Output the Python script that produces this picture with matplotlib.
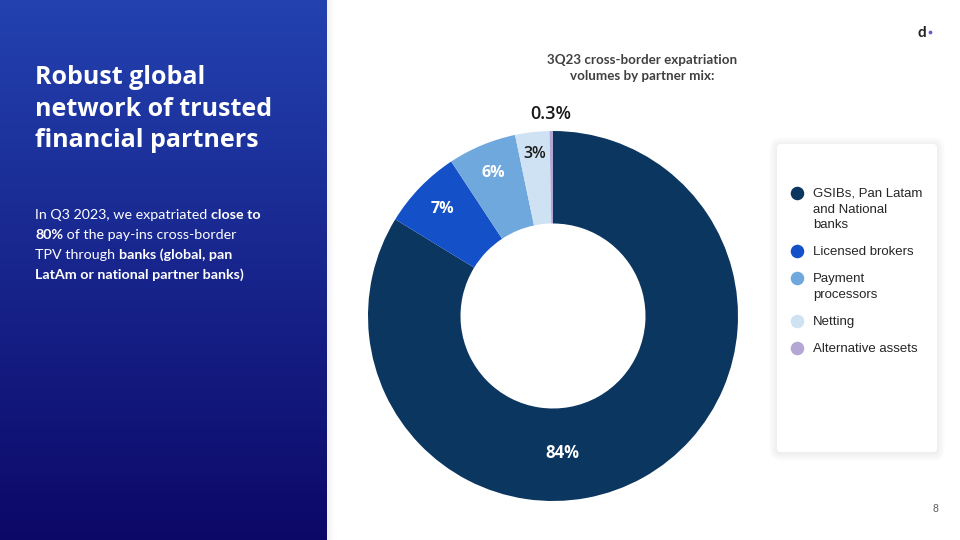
import numpy as np
import matplotlib.pyplot as plt
from matplotlib.patches import FancyBboxPatch, Rectangle

# data
categories = ["GSIBs, Pan Latam\nand National\nbanks", "Licensed brokers",
              "Payment\nprocessors", "Netting", "Alternative assets"]
shares = [84, 7, 6, 3, 0.3]
share_labels = ["84%", "7%", "6%", "3%", "0.3%"]
colors = ["#0b365f", "#1450c8", "#6fa8dc", "#cfe2f3", "#b4a7d6"]

W, H = 960, 540
fig = plt.figure(figsize=(9.6, 5.4), dpi=100)
fig.patch.set_facecolor("white")

# overlay axes in pixel coordinates
bg = fig.add_axes([0, 0, 1, 1])
bg.set_xlim(0, W)
bg.set_ylim(H, 0)
bg.axis("off")

# left panel gradient
top = np.array([0x23, 0x42, 0xb0]) / 255
bot = np.array([0x0c, 0x08, 0x68]) / 255
t = np.linspace(0, 1, 256)[:, None]
grad = (top * (1 - t) + bot * t)[:, None, :]
bg.imshow(grad, extent=[0, 327, H, 0], aspect="auto", zorder=1)
for i in range(8):
    bg.add_patch(Rectangle((327 + i, 0), 1, H, color="black",
                           alpha=0.05 * (1 - i / 8), lw=0, zorder=1))

tfont = "Lato"
for i, line in enumerate(["Robust global", "network of trusted", "financial partners"]):
    bg.text(35, 84 + i * 31.5, line, color="white", fontsize=18,
            fontweight="bold", family="Open Sans", va="baseline", zorder=3)

# body text with bold runs
runs = [
    [("In Q3 2023, we expatriated ", "normal"), ("close to", "bold")],
    [("80%", "bold"), (" of the pay-ins cross-border", "normal")],
    [("TPV through ", "normal"), ("banks (global, pan", "bold")],
    [("LatAm or national partner banks)", "bold")],
]
renderer = fig.canvas.get_renderer()
inv = bg.transData.inverted()
for i, line in enumerate(runs):
    x = 35
    for txt, wt in line:
        tx = bg.text(x, 219 + i * 19.8, txt, color="white", fontsize=10.3,
                     fontweight=wt, family=tfont, va="baseline", zorder=3)
        bb = tx.get_window_extent(renderer=renderer)
        x = inv.transform((bb.x1, bb.y0))[0]

# chart title
bg.text(642, 68, "3Q23 cross-border expatriation\nvolumes by partner mix:",
        ha="center", va="center", fontsize=9.6, fontweight="bold",
        family=tfont, color="#404040", linespacing=1.5, zorder=3)

# logo and page number
bg.text(922, 33, "d", fontsize=11, fontweight="bold", family=tfont,
        color="#222222", ha="center", va="center", zorder=3)
bg.scatter([930], [32], s=3, color="#6a5acd", zorder=3)
bg.text(935, 509, "8", fontsize=7.5, color="#595959", family="Liberation Sans",
        ha="center", va="center", zorder=3)

# legend card with soft shadow
lx0, ly0, lx1, ly1 = 777, 144, 937, 452
for k in range(1, 9):
    bg.add_patch(FancyBboxPatch((lx0 - k, ly0 - k + 1), (lx1 - lx0) + 2 * k,
                                (ly1 - ly0) + 2 * k,
                                boxstyle="round,pad=0,rounding_size=%d" % (4 + k),
                                fc="black", ec="none", alpha=0.006, zorder=2))
bg.add_patch(FancyBboxPatch((lx0, ly0), lx1 - lx0, ly1 - ly0,
                            boxstyle="round,pad=0,rounding_size=4",
                            fc="white", ec="none", zorder=2))

y = 193
for lab, col in zip(categories, colors):
    bg.scatter([797], [y], s=95, color=col, zorder=3, linewidths=0)
    for j, part in enumerate(lab.split("\n")):
        bg.text(813, y + 4 + j * 15.7, part, fontsize=9.5, family="Liberation Sans",
                color="#262626", va="baseline", zorder=3)
    nlines = lab.count("\n") + 1
    y += 15.7 * (nlines - 1) + 27

# donut
cx, cy, r = 553, 316, 185
ax = fig.add_axes([(cx - r) / W, (H - cy - r) / H, 2 * r / W, 2 * r / H])
wedges, _ = ax.pie(shares, colors=colors, startangle=90, counterclock=False,
                   radius=1, wedgeprops=dict(width=0.5, linewidth=0))
ax.set_xlim(-1, 1)
ax.set_ylim(-1, 1)
ax.set_aspect("equal")
ax.axis("off")

lab_r = [0.74, 0.83, 0.84, 0.88, 1.09]
lab_col = ["white", "white", "white", "#1a1a1a", "#1a1a1a"]
lab_size = [12, 11.5, 11.5, 11.5, 13]
lab_wt = ["bold", "bold", "bold", "semibold", "semibold"]
for w, s, rr, c, fs, fw in zip(wedges, share_labels, lab_r, lab_col, lab_size, lab_wt):
    ang = np.deg2rad((w.theta1 + w.theta2) / 2)
    if s == "84%":
        ang = np.deg2rad(-86)
    ax.text(rr * np.cos(ang), rr * np.sin(ang), s, ha="center", va="center",
            color=c, fontsize=fs, fontweight=fw, family="Open Sans")

fig.savefig("out.png", dpi=100)
